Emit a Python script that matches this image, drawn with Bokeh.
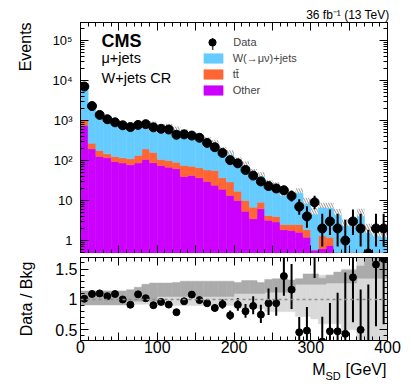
import numpy as np
from bokeh.plotting import figure
from bokeh.models import (Range1d, LinearAxis, LogAxis, Label, Span, FixedTicker,
                          CustomJSTickFormatter, Legend, LegendItem)
from bokeh.layouts import column
from bokeh.embed import file_html
from bokeh.resources import INLINE

FONT = "Liberation Sans"

# ---------------- data (bins of 10 GeV in M_SD) ----------------
bin_low = [0, 10, 20, 30, 40, 50, 60, 70, 80, 90, 100, 110, 120, 130, 140, 150, 160, 170, 180, 190,
           200, 210, 220, 230, 240, 250, 260, 270, 280, 290, 300, 310, 320, 330, 340, 350, 360, 370, 380, 390]
bin_high = [10, 20, 30, 40, 50, 60, 70, 80, 90, 100, 110, 120, 130, 140, 150, 160, 170, 180, 190, 200,
            210, 220, 230, 240, 250, 260, 270, 280, 290, 300, 310, 320, 330, 340, 350, 360, 370, 380, 390, 400]

data = [7080, 2300, 1380, 1075, 900, 760, 685, 775, 810, 675,
        620, 595, 440, 450, 420, 370, 275, 215, 155, 102,
        85, 58, 42, 30, 23, 20, 18, 13, 7, 4,
        9, 2, 3, 2, 1, 3, 2, 0, 2, 2]

w_jets = [6000, 1840, 1077, 873, 700, 643, 640, 582, 599, 587,
          540, 550, 467, 389, 317, 308, 235, 194, 131, 109,
          76, 62, 40.2, 30.9, 20.3, 17.3, 10.5, 8.7, 12.7, 6.35,
          3.9, 5.2, 5.1, 3.7, 1.8, 1.7, 3.5, 1.0, 0.77, 0.7]

ttbar = [250, 75, 52, 30, 32, 31, 32, 47, 89, 70,
         31, 32, 28, 35, 30, 29, 28, 32, 18, 15.7,
         7, 4.6, 3.3, 2.9, 1.0, 1.1, 0.65, 0.72, 0.9, 0.65,
         0, 0.68, 0.45, 0, 0, 0, 0, 0, 0, 0]

other = [750, 195, 126, 117, 94, 86, 78, 86, 106, 88,
         75, 68, 62, 40, 42, 37, 30, 24, 19, 13.3,
         10, 5.4, 3.5, 6.2, 3.2, 2.9, 1.85, 1.78, 1.6, 1.2,
         0.58, 0.62, 0.75, 0.5, 0.5, 0.5, 0.5, 0.5, 0.5, 0.5]

# uncertainty bands shown in the ratio panel (relative to the background)
band_dark_low = [0.91, 0.91, 0.91, 0.91, 0.91, 0.91, 0.97, 0.97, 0.97, 0.97,
                 1.05, 1.05, 1.05, 1.05, 1.05, 1.05, 1.05, 1.05, 1.05, 1.05,
                 1.10, 1.10, 1.10, 1.10, 1.12, 1.12, 1.12, 1.12, 1.25, 1.25,
                 1.25, 1.25, 1.27, 1.27, 1.27, 1.27, 1.35, 1.35, 1.35, 1.35]
band_dark_high = [1.14, 1.14, 1.14, 1.14, 1.14, 1.14, 1.16, 1.20, 1.25, 1.27,
                  1.27, 1.27, 1.28, 1.30, 1.30, 1.30, 1.30, 1.30, 1.30, 1.30,
                  1.28, 1.31, 1.31, 1.28, 1.33, 1.34, 1.34, 1.32, 1.34, 1.42,
                  1.42, 1.35, 1.40, 1.45, 1.48, 1.48, 1.55, 1.75, 1.75, 1.75]
band_light_err = [0.08, 0.08, 0.08, 0.08, 0.08, 0.08, 0.08, 0.08, 0.08, 0.08,
                  0.10, 0.10, 0.10, 0.10, 0.10, 0.10, 0.10, 0.10, 0.10, 0.10,
                  0.15, 0.15, 0.15, 0.15, 0.20, 0.20, 0.20, 0.20, 0.28, 0.28,
                  0.32, 0.40, 0.40, 0.40, 0.50, 0.50, 0.70, 0.70, 0.70, 0.70]

legend_labels = ["Data", "W(\u2192\u03bc\u03bd)+jets", "tt\u0304", "Other"]

BLUE = "#66ccff"
ORANGE = "#ff6633"
PURPLE = "#cc00ff"
DARK = "#ababab"
LIGHT = "#d9d9d9"

# ---------------- derived ----------------
lo = np.array(bin_low, float)
hi = np.array(bin_high, float)
ctr = 0.5 * (lo + hi)
n = np.array(data, float)
s_other = np.array(other, float)
s_tt = s_other + np.array(ttbar, float)
total = s_tt + np.array(w_jets, float)

nn = np.maximum(n, 1.0)
n_lo = np.where(n > 0, n * (1 - 1 / (9 * nn) - 1 / (3 * np.sqrt(nn))) ** 3, 0.0)
n_hi = n + np.sqrt(n + 0.75) + 1.0

Y_LO, Y_HI = 0.473, 2.82e5
R_LO, R_HI = 0.325, 1.69

BLANK = CustomJSTickFormatter(code="return '';")


def style_axis(ax, labels=True, size="16px", standoff=2):
    ax.major_tick_in = 8
    ax.major_tick_out = 0
    ax.minor_tick_in = 4
    ax.minor_tick_out = 0
    ax.axis_line_color = "black"
    ax.major_tick_line_color = "black"
    ax.minor_tick_line_color = "black"
    ax.major_label_text_font = FONT
    ax.major_label_text_color = "black"
    if labels:
        ax.major_label_text_font_size = size
        ax.major_label_standoff = standoff
    else:
        ax.formatter = BLANK
        ax.major_label_text_font_size = "1px"
        ax.major_label_standoff = 0


def axis_title(ax, text, standoff):
    ax.axis_label = text
    ax.axis_label_text_font = FONT
    ax.axis_label_text_font_size = "16px"
    ax.axis_label_text_font_style = "normal"
    ax.axis_label_text_color = "black"
    ax.axis_label_standoff = standoff


x_ticker = FixedTicker(ticks=list(range(0, 401, 50)), minor_ticks=list(range(0, 401, 10)))
x_fmt = CustomJSTickFormatter(code="return (Math.round(tick) % 100 === 0) ? tick.toFixed(0) : '';")
log_fmt = CustomJSTickFormatter(code="""
const sup = {2: "\u00b2", 3: "\u00b3", 4: "\u2074", 5: "\u2075", 6: "\u2076"};
const e = Math.round(Math.log10(tick));
if (e <= 0) { return "1"; }
if (e == 1) { return "10"; }
return "10" + sup[e];
""")

# ---------------- top panel ----------------
p1 = figure(width=411, height=253, x_range=Range1d(0, 400), y_range=Range1d(Y_LO, Y_HI),
            y_axis_type="log", output_backend="svg", toolbar_location=None,
            min_border_left=80, min_border_right=24, min_border_top=22, min_border_bottom=0)
p1.xgrid.grid_line_color = None
p1.ygrid.grid_line_color = None
p1.outline_line_color = "black"
p1.background_fill_color = "white"
p1.border_fill_color = "white"
p1.title.text = "36 fb\u207b\u00b9 (13 TeV)"
p1.title.align = "right"
p1.title.text_font = FONT
p1.title.text_font_size = "12px"
p1.title.text_font_style = "normal"
p1.title.text_color = "black"
p1.title.standoff = 2
p1.title.offset = -2

y_major = [1, 10, 100, 1e3, 1e4, 1e5]
y_minor = [m * 10.0 ** k for k in range(-1, 6) for m in range(2, 10)]
p1.yaxis[0].ticker = FixedTicker(ticks=y_major, minor_ticks=y_minor)
p1.yaxis[0].formatter = log_fmt
style_axis(p1.yaxis[0], labels=True, size="13px", standoff=8)
# title sits at the top end of the axis (leading no-break spaces push it up)
axis_title(p1.yaxis[0], "\u00a0" * 41 + "Events", 15)
p1.xaxis[0].ticker = x_ticker
style_axis(p1.xaxis[0], labels=False)
ax = LinearAxis(ticker=x_ticker)
style_axis(ax, labels=False)
p1.add_layout(ax, "above")
ay = LogAxis(ticker=FixedTicker(ticks=y_major, minor_ticks=y_minor))
style_axis(ay, labels=False)
p1.add_layout(ay, "right")

r_other = p1.quad(left=lo, right=hi, bottom=Y_LO, top=s_other, fill_color=PURPLE,
                  line_color=PURPLE, line_width=0.5)
r_tt = p1.quad(left=lo, right=hi, bottom=s_other, top=s_tt, fill_color=ORANGE,
               line_color=ORANGE, line_width=0.5)
r_w = p1.quad(left=lo, right=hi, bottom=s_tt, top=total, fill_color=BLUE,
              line_color=BLUE, line_width=0.5)
p1.quad(left=lo, right=hi, bottom=total, top=total * np.array(band_dark_high), fill_alpha=0,
        line_color=None, hatch_pattern="\\", hatch_color="#7a7a7a", hatch_scale=5,
        hatch_weight=0.8)

p1.segment(x0=ctr, y0=np.maximum(n_lo, 1e-2), x1=ctr, y1=n_hi, line_color="black", line_width=2)
r_data = p1.scatter(x=ctr, y=np.maximum(n, Y_LO), size=9, color="black")

leg_data = Legend(items=[LegendItem(label=legend_labels[0], renderers=[r_data])],
                  location=(120.3, 202.3), glyph_width=24, glyph_height=18, label_height=18,
                  label_standoff=9, padding=0, margin=0, spacing=0,
                  border_line_color=None, background_fill_alpha=0,
                  label_text_font=FONT, label_text_font_size="11px")
leg_box = Legend(items=[LegendItem(label=legend_labels[1], renderers=[r_w]),
                        LegendItem(label=legend_labels[2], renderers=[r_tt]),
                        LegendItem(label=legend_labels[3], renderers=[r_other])],
                 location=(120.7, 157.3), glyph_width=24, glyph_height=12, label_height=12,
                 label_standoff=8, padding=0, margin=0, spacing=4,
                 border_line_color=None, background_fill_alpha=0,
                 label_text_font=FONT, label_text_font_size="11px")
p1.add_layout(leg_data)
p1.add_layout(leg_box)


def lab(fig, text, x, y, size, **kw):
    opts = dict(x=x, y=y, x_units="screen", y_units="screen", text=text,
                text_font=FONT, text_font_size=size, text_color="black")
    opts.update(kw)
    fig.add_layout(Label(**opts))


lab(p1, "|", 132.3, 211.3, "13px", text_align="center", text_baseline="middle")
lab(p1, "CMS", 21, 203, "18px", text_font_style="bold")
lab(p1, "\u03bc+jets", 21, 187.3, "14.5px")
lab(p1, "W+jets CR", 21, 168, "14.5px")

# ---------------- ratio panel ----------------
p2 = figure(width=411, height=108, x_range=p1.x_range, y_range=Range1d(R_LO, R_HI),
            output_backend="svg", toolbar_location=None,
            min_border_left=80, min_border_right=24, min_border_top=4, min_border_bottom=21)
p2.xgrid.grid_line_color = None
p2.ygrid.grid_line_color = None
p2.outline_line_color = "black"
p2.background_fill_color = "white"
p2.border_fill_color = "white"

r_ticker = FixedTicker(ticks=[0.5, 1.0, 1.5],
                       minor_ticks=[round(0.3 + 0.1 * i, 2) for i in range(15)])
p2.yaxis[0].ticker = r_ticker
p2.yaxis[0].formatter = CustomJSTickFormatter(code="return tick.toString();")
style_axis(p2.yaxis[0], labels=True, size="16px", standoff=3)
axis_title(p2.yaxis[0], "Data / Bkg", 17)
p2.xaxis[0].ticker = x_ticker
p2.xaxis[0].formatter = x_fmt
style_axis(p2.xaxis[0], labels=True, size="16px", standoff=0)
ax2 = LinearAxis(ticker=x_ticker)
style_axis(ax2, labels=False)
p2.add_layout(ax2, "above")
ay2 = LinearAxis(ticker=r_ticker)
style_axis(ay2, labels=False)
p2.add_layout(ay2, "right")

le = np.array(band_light_err)
p2.quad(left=lo, right=hi, bottom=1 - le, top=1 + le, fill_color=LIGHT, line_color=LIGHT, line_width=0.5)
p2.quad(left=lo, right=hi, bottom=np.array(band_dark_low), top=np.array(band_dark_high),
        fill_color=DARK, line_color=DARK, line_width=0.5)
p2.add_layout(Span(location=1.0, dimension="width", line_color="#8c8c8c", line_dash="3 3",
                   line_width=1.5))

ratio = n / total
p2.segment(x0=ctr, y0=n_lo / total, x1=ctr, y1=n_hi / total, line_color="black", line_width=2)
p2.scatter(x=ctr, y=ratio, size=7, color="black")

# ---------------- strip for the x-axis title (frame aligned with the panels above) ----------------
p3 = figure(width=411, height=26, x_range=Range1d(0, 1), y_range=Range1d(0, 1),
            output_backend="svg", toolbar_location=None,
            min_border_left=80, min_border_right=24, min_border_top=0, min_border_bottom=0)
p3.axis.visible = False
p3.xgrid.grid_line_color = None
p3.ygrid.grid_line_color = None
p3.outline_line_color = None
p3.background_fill_color = "white"
p3.border_fill_color = "white"
lab(p3, "M", 231.7, 9.7, "16px")
lab(p3, "SD", 245.0, 5.5, "11px")
lab(p3, "[GeV]", 265.0, 9.7, "16px")

layout = column(p1, p2, p3)
open("out.html", "w").write(file_html(layout, INLINE))
